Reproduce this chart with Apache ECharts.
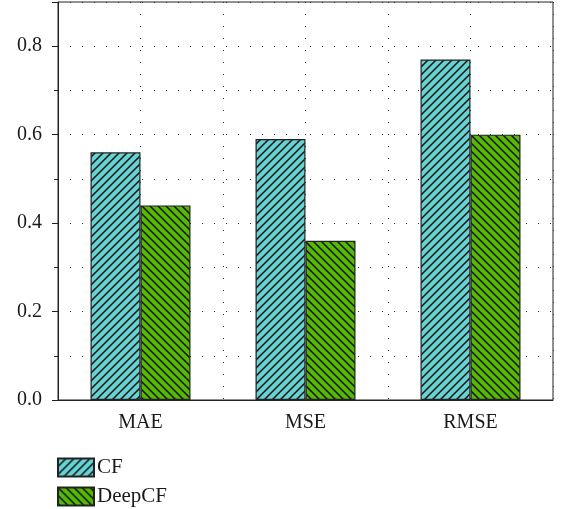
<!DOCTYPE html>
<html>
<head>
<meta charset="utf-8">
<script src="https://cdn.jsdelivr.net/npm/echarts@6/dist/echarts.min.js"></script>
<style>
  html, body { margin: 0; padding: 0; background: #fff; }
  #chart { width: 561px; height: 509px; }
</style>
</head>
<body>
<div id="chart"></div>
<script>
const categories = ["MAE", "MSE", "RMSE"];
const cfValues = [0.56, 0.59, 0.77];
const deepCfValues = [0.44, 0.36, 0.60];
const seriesNames = ["CF", "DeepCF"];

// hatch tile: dir 1 = "/", dir -1 = "\"
function hatch(bg, dir) {
  const s = 8;
  const c = document.createElement("canvas");
  c.width = s;
  c.height = s;
  const ctx = c.getContext("2d");
  ctx.fillStyle = bg;
  ctx.fillRect(0, 0, s, s);
  ctx.strokeStyle = "#111";
  ctx.lineWidth = 1.5;
  ctx.beginPath();
  if (dir > 0) {
    ctx.moveTo(-2, s + 2); ctx.lineTo(s + 2, -2);
    ctx.moveTo(-2, 2); ctx.lineTo(2, -2);
    ctx.moveTo(s - 2, s + 2); ctx.lineTo(s + 2, s - 2);
  } else {
    ctx.moveTo(-2, -2); ctx.lineTo(s + 2, s + 2);
    ctx.moveTo(s - 2, -2); ctx.lineTo(s + 2, 2);
    ctx.moveTo(-2, s - 2); ctx.lineTo(2, s + 2);
  }
  ctx.stroke();
  return { image: c, repeat: "repeat" };
}

const font = "Liberation Serif";
const dotted = { color: "#333", width: 1, type: [1, 11] };

let myChart = echarts.init(document.getElementById("chart"));
let option = {
  animation: false,
  textStyle: { fontFamily: font },
  grid: {
    left: 58,
    right: 8,
    top: 2,
    bottom: 109,
    outerBoundsMode: "none",
    containLabel: false,
    show: true,
    borderColor: "#222",
    borderWidth: 1
  },
  legend: {
    orient: "vertical",
    left: 57,
    top: 457,
    padding: 0,
    itemWidth: 36,
    itemHeight: 18,
    itemGap: 8,
    icon: "rect",
    textStyle: { fontFamily: font, fontSize: 21, color: "#1a1a1a", padding: [0, 0, 0, -2] },
    data: seriesNames
  },
  xAxis: [
    {
      type: "category",
      data: categories,
      axisLine: { lineStyle: { color: "#222", width: 1 } },
      axisTick: { alignWithLabel: true, length: 7, lineStyle: { color: "#222" } },
      axisLabel: { fontFamily: font, fontSize: 20, color: "#1a1a1a", margin: 13 },
      splitLine: { show: false }
    },
    {
      type: "value",
      min: 0,
      max: 3,
      interval: 0.5,
      show: true,
      position: "top",
      axisLine: { show: false },
      axisTick: { show: false },
      axisLabel: { show: false },
      splitLine: { show: true, lineStyle: dotted }
    }
  ],
  yAxis: {
    type: "value",
    min: 0,
    max: 0.9,
    interval: 0.2,
    axisLine: { show: true, lineStyle: { color: "#222", width: 1 } },
    axisTick: { show: true, length: 6, lineStyle: { color: "#222" } },
    minorTick: { show: true, splitNumber: 2, length: 4, lineStyle: { color: "#222" } },
    axisLabel: {
      fontFamily: font,
      fontSize: 20,
      color: "#1a1a1a",
      margin: 16,
      showMaxLabel: false,
      formatter: v => v.toFixed(1)
    },
    splitLine: { show: true, lineStyle: dotted },
    minorSplitLine: { show: true, lineStyle: dotted }
  },
  series: [
    {
      name: seriesNames[0],
      type: "bar",
      data: cfValues,
      barWidth: 50,
      barGap: "0%",
      itemStyle: { color: hatch("#66d2d2", 1), borderColor: "#222", borderWidth: 1.2 }
    },
    {
      name: seriesNames[1],
      type: "bar",
      data: deepCfValues,
      barWidth: 50,
      barGap: "0%",
      itemStyle: { color: hatch("#55b804", -1), borderColor: "#222", borderWidth: 1.2 }
    }
  ]
};
myChart.setOption(option);
</script>
</body>
</html>
